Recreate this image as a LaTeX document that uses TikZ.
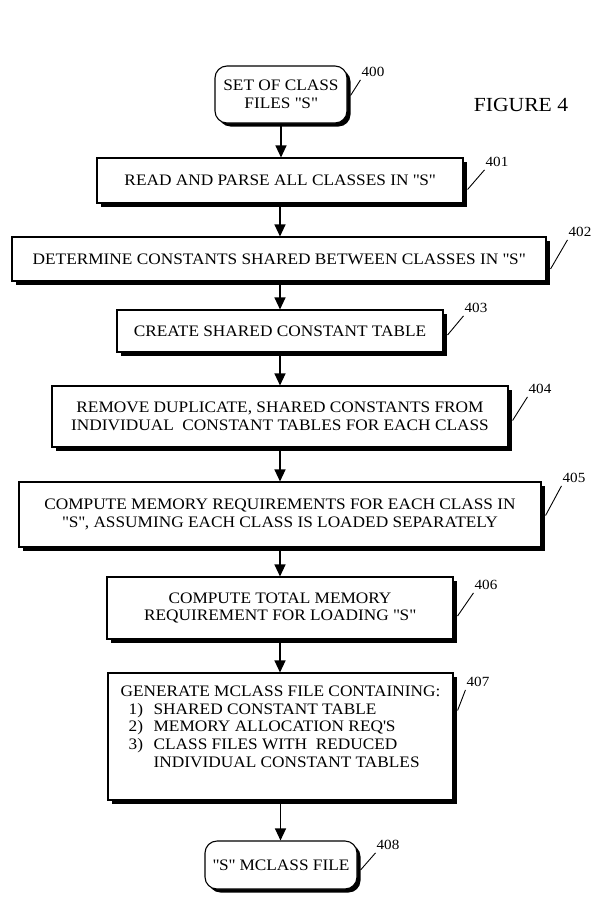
\documentclass[tikz,border=0pt]{standalone}
\usepackage{fontspec}
\setmainfont[FakeStretch=1.08]{Liberation Serif}
\usetikzlibrary{shadows,arrows.meta,calc}
% straight double quotes around the set name
\newcommand\setS{\textquotedbl S\textquotedbl}
\begin{document}
\begin{tikzpicture}[x=1pt,y=-1pt,
  stepbox/.style={draw, line width=1.1pt, fill=white,
    drop shadow={shadow xshift=3.5pt,shadow yshift=-3.5pt,fill=black,opacity=1},
    align=center, inner sep=0pt, font=\fontsize{16}{17.8}\selectfont},
  termbox/.style={stepbox, rounded corners=12pt},
  reflabel/.style={inner sep=0pt, font=\fontsize{14}{14}\selectfont},
  flow/.style={line width=1.2pt, -{Triangle[length=12pt,width=11pt]}},
  leader/.style={line width=0.9pt}]
\useasboundingbox (0,0) rectangle (597,897);

% process boxes, top to bottom
\node[termbox, minimum width=132pt, minimum height=57pt] (b400) at (281,94.5) {SET OF CLASS\\FILES \setS};
\node[stepbox, minimum width=366pt, minimum height=45pt] (b401) at (280,180.5) {READ AND PARSE ALL CLASSES IN \setS};
\node[stepbox, minimum width=534pt, minimum height=44pt] (b402) at (279,259) {DETERMINE CONSTANTS SHARED BETWEEN CLASSES IN \setS};
\node[stepbox, minimum width=326pt, minimum height=42pt] (b403) at (280,331) {CREATE SHARED CONSTANT TABLE};
\node[stepbox, minimum width=456pt, minimum height=61pt] (b404) at (280,416.5) {REMOVE DUPLICATE, SHARED CONSTANTS FROM\\INDIVIDUAL\ \ CONSTANT TABLES FOR EACH CLASS};
\node[stepbox, minimum width=522pt, minimum height=65pt] (b405) at (280,514.5) {COMPUTE MEMORY REQUIREMENTS FOR EACH CLASS IN\\\setS, ASSUMING EACH CLASS IS LOADED SEPARATELY};
\node[stepbox, minimum width=346pt, minimum height=62pt] (b406) at (280,608) {COMPUTE TOTAL MEMORY\\REQUIREMENT FOR LOADING \setS};
\node[stepbox, minimum width=345pt, minimum height=127pt, align=left] (b407) at (280.5,736.5)
  {GENERATE MCLASS FILE CONTAINING:\\
   \hspace*{8pt}\makebox[25pt][l]{1)}SHARED CONSTANT TABLE\\
   \hspace*{8pt}\makebox[25pt][l]{2)}MEMORY ALLOCATION REQ\textquotesingle S\\
   \hspace*{8pt}\makebox[25pt][l]{3)}CLASS FILES WITH\ \ REDUCED\\
   \hspace*{33pt}INDIVIDUAL CONSTANT TABLES\\[2pt]\mbox{}};
\node[termbox, minimum width=152pt, minimum height=48pt] (b408) at (281,865) {\setS{} MCLASS FILE};

\node[font=\fontsize{20}{20}\selectfont, inner sep=0pt] (fig) at (521,105) {FIGURE 4};

% reference numerals
\node[reflabel] (l400) at (373,72) {400};
\node[reflabel] (l401) at (497,162) {401};
\node[reflabel] (l402) at (580,232) {402};
\node[reflabel] (l403) at (476,308) {403};
\node[reflabel] (l404) at (540,389) {404};
\node[reflabel] (l405) at (574,478) {405};
\node[reflabel] (l406) at (486,585) {406};
\node[reflabel] (l407) at (478,682) {407};
\node[reflabel] (l408) at (388,845) {408};

% leader lines from boxes to numerals
\draw[leader] ([xshift=3pt,yshift=-1pt]b400.east) -- ([xshift=-1pt,yshift=-3pt]l400.south west);
\draw[leader] ([xshift=4pt,yshift=-9pt]b401.east) -- ([xshift=-1pt,yshift=-3pt]l401.south west);
\draw[leader] ([xshift=4pt,yshift=-10pt]b402.east) -- ([xshift=-1pt,yshift=-3pt]l402.south west);
\draw[leader] ([xshift=4pt,yshift=-4pt]b403.east) -- ([xshift=-1pt,yshift=-3pt]l403.south west);
\draw[leader] ([xshift=4pt,yshift=-4pt]b404.east) -- ([xshift=-1pt,yshift=-3pt]l404.south west);
\draw[leader] ([xshift=4pt,yshift=-1pt]b405.east) -- ([xshift=-1pt,yshift=-3pt]l405.south west);
\draw[leader] ([xshift=4pt,yshift=-8pt]b406.east) -- ([xshift=-1pt,yshift=-3pt]l406.south west);
\draw[leader] ([xshift=4pt,yshift=26pt]b407.east) -- ([xshift=-1pt,yshift=-3pt]l407.south west);
\draw[leader] ([xshift=3pt,yshift=-5pt]b408.east) -- ([xshift=-1pt,yshift=-3pt]l408.south west);

% flow arrows
\draw[flow] (b400.south) -- (b400.south |- b401.north);
\draw[flow] (b401.south) -- (b401.south |- b402.north);
\draw[flow] (b402.south -| b401.south) -- (b401.south |- b403.north);
\draw[flow] (b403.south) -- (b403.south |- b404.north);
\draw[flow] (b404.south) -- (b404.south |- b405.north);
\draw[flow] (b405.south) -- (b405.south |- b406.north);
\draw[flow] (b406.south) -- (b406.south |- b407.north);
\draw[flow] (b407.south) -- (b407.south |- b408.north);
\end{tikzpicture}
\end{document}
